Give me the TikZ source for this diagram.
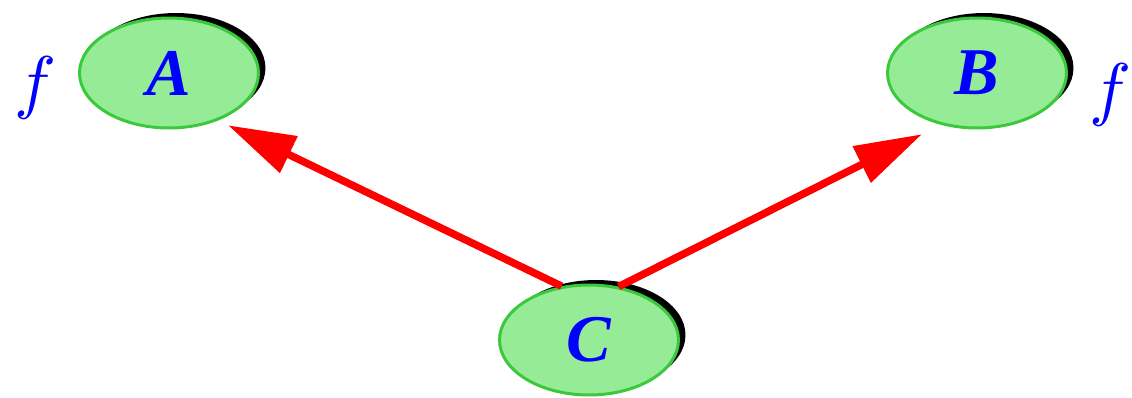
\documentclass[tikz,border=0pt]{standalone}
\usepackage{graphicx}
\usepackage{fontspec}
\setmainfont{Liberation Serif}
\usepackage{tikz}
\usetikzlibrary{arrows.meta,shadows,shapes.geometric}
\usepackage{xcolor}
\definecolor{NodeFill}{HTML}{96EB96}
\definecolor{NodeLine}{HTML}{3CC83C}
\definecolor{LabelBlue}{HTML}{0000FF}
\definecolor{EdgeRed}{HTML}{FF0000}

\begin{document}
\begin{tikzpicture}[
  x=0.02cm,y=0.02cm,
  state/.style={ellipse,draw=NodeLine,fill=NodeFill,line width=1.7pt,
    minimum width=3.58cm,minimum height=2.2cm,inner sep=0pt,
    text=LabelBlue,font=\fontsize{38}{40}\selectfont\bfseries\itshape,
    drop shadow={shadow xshift=0.14cm,shadow yshift=0.1cm,fill=black,opacity=1}},
  mark label/.style={text=LabelBlue,inner sep=0pt},
  link/.style={-{Triangle[length=1.35cm,width=0.78cm]},draw=EdgeRed,
    line width=0.15cm}
]
\useasboundingbox (0,0) rectangle (1132,397);

% three states, C feeds both A and B
\node[state] (A) at (169,324) {A};
\node[state] (B) at (977,324) {B};
\node[state] (C) at (589,57) {C};

\node[mark label] (fA) at (35,309) {\scalebox{4}{$f$}};
\node[mark label] (fB) at (1110,302) {\scalebox{4}{$f$}};

\draw[link,shorten >=0.22cm] (C.117) -- (A.-44);
\draw[link,shorten >=0.42cm] (C.61) -- (B.-125);

\end{tikzpicture}
\end{document}
